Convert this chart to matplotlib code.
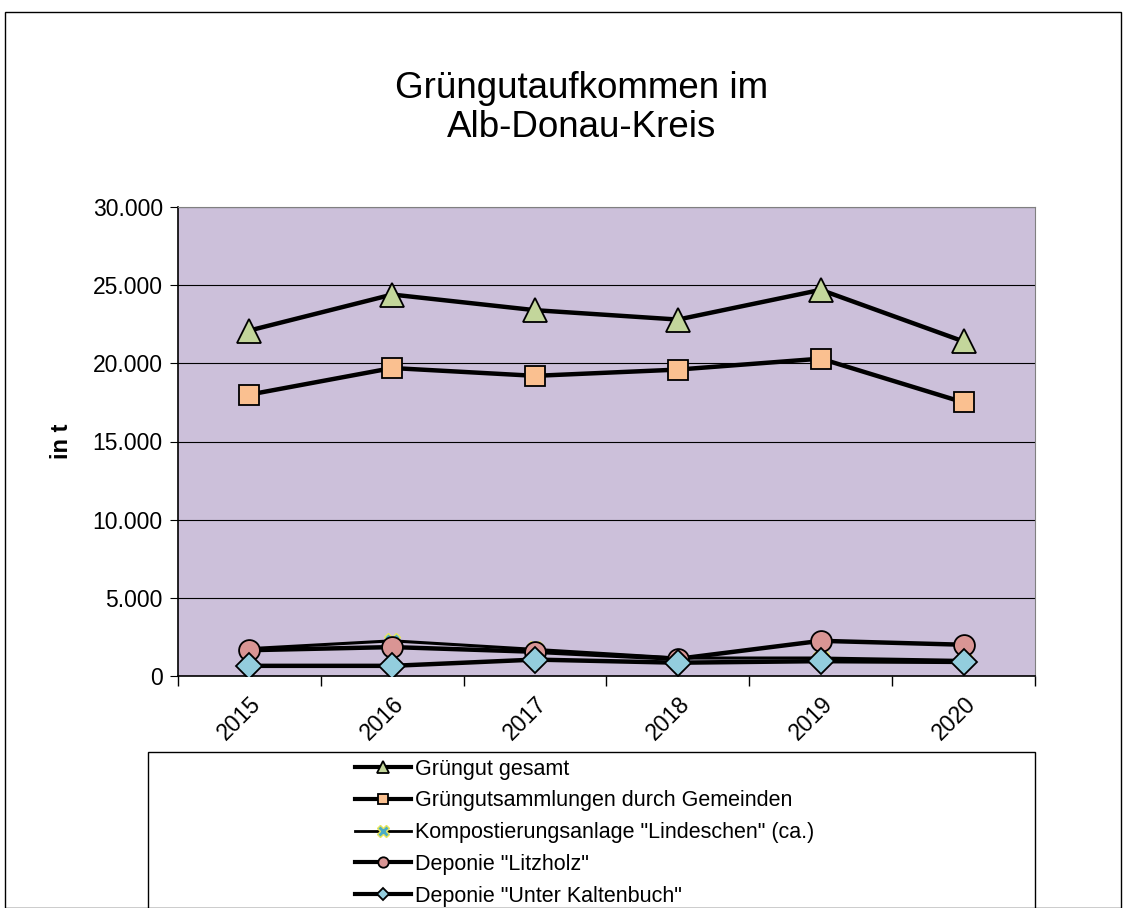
import matplotlib
matplotlib.use("Agg")
import matplotlib.pyplot as plt
from matplotlib.patches import Rectangle
from matplotlib.ticker import FuncFormatter, FixedLocator

plt.rcParams['font.family'] = ['Liberation Sans', 'DejaVu Sans']

years = ["2015", "2016", "2017", "2018", "2019", "2020"]
gesamt = [22100, 24400, 23400, 22800, 24700, 21400]
gemeinden = [18000, 19700, 19200, 19600, 20300, 17500]
lindeschen = [1750, 2250, 1700, 1150, 1150, 1000]
litzholz = [1650, 1850, 1550, 1100, 2250, 2000]
kaltenbuch = [650, 650, 1050, 850, 950, 900]

labels = ["Grüngut gesamt",
          "Grüngutsammlungen durch Gemeinden",
          'Kompostierungsanlage "Lindeschen" (ca.)',
          'Deponie "Litzholz"',
          'Deponie "Unter Kaltenbuch"']

W, H = 1123, 908
fig = plt.figure(figsize=(W / 100, H / 100), dpi=100)

# outer frame of the chart
fig.patches.append(Rectangle((5 / W, 0), 1116 / W, 1 - 12 / H, transform=fig.transFigure,
                             fill=False, edgecolor="black", linewidth=1, clip_on=False))

ax = fig.add_axes([178 / W, 1 - 676 / H, 857 / W, 469 / H])
ax.set_facecolor("#CCC0DA")

x = list(range(len(years)))
lw = 3.2
ax.plot(x, gesamt, color="black", lw=lw, marker="^", ms=17, mfc="#C3D69B", mec="black", mew=1.3, label=labels[0], zorder=3)
ax.plot(x, gemeinden, color="black", lw=lw, marker="s", ms=14, mfc="#FAC090", mec="black", mew=1.3, label=labels[1], zorder=3)
ax.plot(x, lindeschen, color="black", lw=2.2, marker="X", ms=11, mfc="#4BACC6", mec="#E6E65A", mew=1.0, label=labels[2], zorder=3)
ax.plot(x, litzholz, color="black", lw=lw, marker="o", ms=15, mfc="#D99594", mec="black", mew=1.3, label=labels[3], zorder=4)
ax.plot(x, kaltenbuch, color="black", lw=lw, marker="D", ms=13, mfc="#93CDDD", mec="black", mew=1.3, label=labels[4], zorder=5)

ax.set_xlim(-0.5, len(years) - 0.5)
ax.set_ylim(0, 30000)
ax.set_yticks(range(0, 30001, 5000))
ax.yaxis.set_major_formatter(FuncFormatter(lambda v, p: f"{int(v):,}".replace(",", ".")))
ax.grid(axis="y", color="black", lw=0.8)
ax.set_axisbelow(True)

ax.xaxis.set_major_locator(FixedLocator([i - 0.5 for i in range(len(years) + 1)]))
ax.xaxis.set_minor_locator(FixedLocator(x))
ax.set_xticklabels([])
ax.set_xticklabels(years, minor=True, rotation=45, ha="right", rotation_mode="anchor", fontsize=16.5)
ax.tick_params(axis="x", which="major", length=7, direction="out", width=1)
ax.tick_params(axis="x", which="minor", length=0, pad=12)
ax.tick_params(axis="y", length=6, direction="out", labelsize=16.5, pad=5)

for s in ["top", "right"]:
    ax.spines[s].set_color("#808080")
    ax.spines[s].set_linewidth(0.8)
for s in ["left", "bottom"]:
    ax.spines[s].set_color("black")
    ax.spines[s].set_linewidth(1.2)

ax.set_ylabel("in t", fontsize=17, fontweight="bold", labelpad=14)

fig.text(582 / W, 1 - 108 / H, "Grüngutaufkommen im\nAlb-Donau-Kreis", ha="center", va="center",
         fontsize=26.5, linespacing=1.15)

# legend box
fig.patches.append(Rectangle((148 / W, -0.05), (1035 - 148) / W, 0.05 + 1 - 752 / H,
                             transform=fig.transFigure, fill=False, edgecolor="black",
                             linewidth=1, clip_on=False))
handles, lbls = ax.get_legend_handles_labels()
leg = fig.legend(handles, lbls, loc="upper left", bbox_to_anchor=(346 / W, 1 - 750 / H),
                 frameon=False, fontsize=15.5, handlelength=2.6, handletextpad=0.2,
                 labelspacing=0.5, markerscale=0.5, borderaxespad=0)
for h in leg.legend_handles:
    h.set_linewidth(3)
leg.legend_handles[2].set_markersize(9)
leg.legend_handles[2].set_linewidth(2)

fig.savefig("out.png", dpi=100)
